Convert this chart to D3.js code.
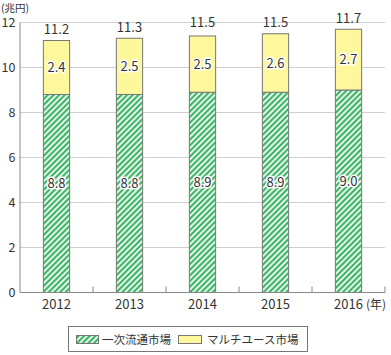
<!DOCTYPE html>
<html><head><meta charset="utf-8">
<script src="https://cdn.jsdelivr.net/npm/d3@7"></script>
<style>
body{margin:0;background:#fff;}
text{font-family:"Noto Sans CJK JP","Noto Sans",sans-serif;}
</style></head>
<body><svg id="c" width="391" height="355"></svg>
<script>
const years = ["2012","2013","2014","2015","2016"];
const primary = [8.8, 8.8, 8.9, 8.9, 9.0];
const multiuse = [2.4, 2.5, 2.5, 2.6, 2.7];
const totals = [11.2, 11.3, 11.5, 11.5, 11.7];
const yTicks = [0,2,4,6,8,10,12];
const seriesNames = ["一次流通市場","マルチユース市場"];

const svg = d3.select("#c");
const defs = svg.append("defs");
const pat = defs.append("pattern").attr("id","hatch").attr("patternUnits","userSpaceOnUse")
  .attr("width",4).attr("height",4).attr("patternTransform","rotate(45)");
pat.append("rect").attr("width",4).attr("height",4).attr("fill","#eaf8ee");
pat.append("rect").attr("width",2.1).attr("height",4).attr("fill","#3fb466");

const x0 = 20, x1 = 385, yTop = 22.5, yBot = 292.5;
const x = d3.scaleBand().domain(years).range([x0,x1]).paddingInner(0.64).paddingOuter(0.32);
const y = d3.scaleLinear().domain([0,12]).range([yBot,yTop]);

// gridlines
svg.append("g").selectAll("line").data(yTicks.filter(d=>d>0)).join("line")
  .attr("x1",x0).attr("x2",x1).attr("y1",d=>y(d)).attr("y2",d=>y(d))
  .attr("stroke","#cfcfcf").attr("stroke-width",1);

// y labels
svg.append("g").selectAll("text").data(yTicks).join("text")
  .attr("x",15.5).attr("y",d=>y(d)).attr("dy","0.35em").attr("text-anchor","end")
  .attr("font-size",12.5).attr("fill","#333").text(d=>d);
svg.append("text").attr("x",1).attr("y",11.5).attr("font-size",10.5).attr("fill","#333").text("(兆円)");

// bars
const band = d3.scaleBand().domain(years).range([x0,x1]);
const g = svg.append("g");
years.forEach((yr,i)=>{
  g.append("rect").attr("x",x(yr)).attr("width",x.bandwidth())
    .attr("y",y(primary[i])).attr("height",y(0)-y(primary[i]))
    .attr("fill","url(#hatch)").attr("stroke","#777").attr("stroke-width",1);
  g.append("rect").attr("x",x(yr)).attr("width",x.bandwidth())
    .attr("y",y(primary[i]+multiuse[i])).attr("height",y(primary[i])-y(primary[i]+multiuse[i]))
    .attr("fill","#fff79b").attr("stroke","#777").attr("stroke-width",1);
});

// axes lines
svg.append("line").attr("x1",x0).attr("x2",x0).attr("y1",yTop).attr("y2",yBot).attr("stroke","#888");
svg.append("line").attr("x1",x0).attr("x2",x1).attr("y1",yBot).attr("y2",yBot).attr("stroke","#888");
const bounds = years.map(d=>band(d)).concat([x1]).slice(1);
svg.append("g").selectAll("line").data(bounds).join("line")
  .attr("x1",d=>d).attr("x2",d=>d).attr("y1",yBot).attr("y2",yBot-6).attr("stroke","#888");

// labels
function lab(xp, yp, t){
  svg.append("text").attr("x",xp).attr("y",yp).attr("dy","0.35em").attr("text-anchor","middle")
    .attr("font-size",13).attr("fill","#333").attr("stroke","#fff").attr("stroke-width",3)
    .attr("paint-order","stroke").attr("stroke-linejoin","round").text(t);
}
years.forEach((yr,i)=>{
  const cx = x(yr)+x.bandwidth()/2;
  lab(cx, y(primary[i]*0.55), primary[i].toFixed(1));
  lab(cx, y(primary[i]+multiuse[i]/2), multiuse[i].toFixed(1));
  svg.append("text").attr("x",cx).attr("y",y(totals[i])-11).attr("dy","0.35em").attr("text-anchor","middle")
    .attr("font-size",13).attr("fill","#333").text(totals[i].toFixed(1));
  svg.append("text").attr("x",cx).attr("y",yBot+12).attr("dy","0.35em").attr("text-anchor","middle")
    .attr("font-size",13).attr("fill","#333").text(yr);
});
svg.append("text").attr("x",366).attr("y",yBot+12).attr("dy","0.35em")
  .attr("font-size",12).attr("fill","#333").text("(年)");

// legend
const lg = svg.append("g");
lg.append("rect").attr("x",68.5).attr("y",326.5).attr("width",239).attr("height",25)
  .attr("fill","#fff").attr("stroke","#777");
lg.append("rect").attr("x",76.5).attr("y",335.5).attr("width",22).attr("height",8)
  .attr("fill","url(#hatch)").attr("stroke","#777");
lg.append("text").attr("x",102).attr("y",339.5).attr("dy","0.35em").attr("font-size",11.5).attr("fill","#333").text(seriesNames[0]);
lg.append("rect").attr("x",178.5).attr("y",335.5).attr("width",23).attr("height",8)
  .attr("fill","#fff79b").attr("stroke","#777");
lg.append("text").attr("x",207).attr("y",339.5).attr("dy","0.35em").attr("font-size",11.5).attr("fill","#333").text(seriesNames[1]);
</script></body></html>
